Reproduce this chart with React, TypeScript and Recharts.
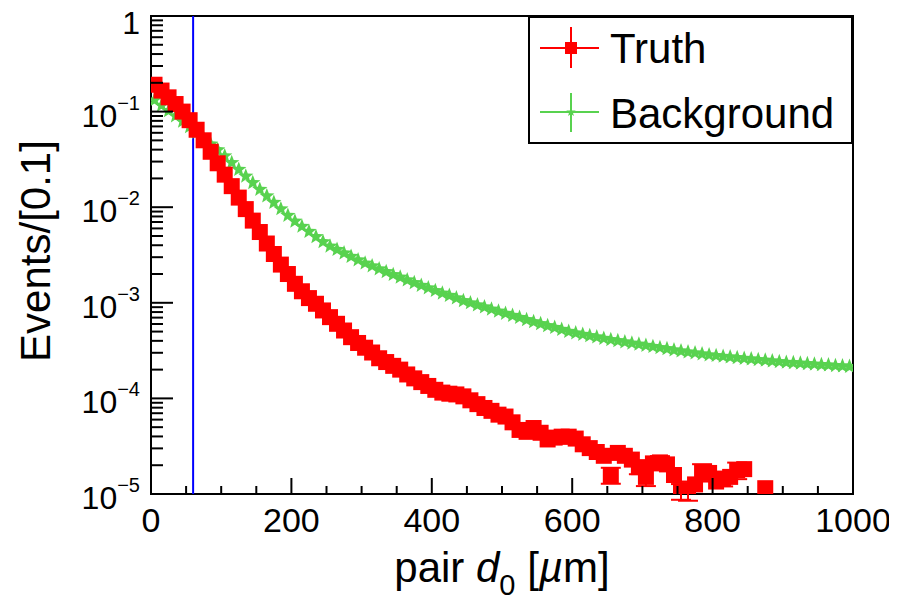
import React from 'react';
import { ScatterChart, Scatter, XAxis, YAxis, ReferenceLine, ReferenceArea, ErrorBar, Legend, Label } from 'recharts';

const FONT = '"Liberation Sans", Arial, Helvetica, sans-serif';

// ---- data (bin centres in micrometres, 10 um bins) ----
const binCenters = [
  5, 15, 25, 35, 45, 55, 65, 75, 85, 95,
  105, 115, 125, 135, 145, 155, 165, 175, 185, 195,
  205, 215, 225, 235, 245, 255, 265, 275, 285, 295,
  305, 315, 325, 335, 345, 355, 365, 375, 385, 395,
  405, 415, 425, 435, 445, 455, 465, 475, 485, 495,
  505, 515, 525, 535, 545, 555, 565, 575, 585, 595,
  605, 615, 625, 635, 645, 655, 665, 675, 685, 695,
  705, 715, 725, 735, 745, 755, 765, 775, 785, 795,
  805, 815, 825, 835, 845, 855, 865, 875, 885, 895,
  905, 915, 925, 935, 945, 955, 965, 975, 985, 995,
];

const truthValues: (number | null)[] = [
  0.191, 0.166, 0.141, 0.12, 0.1,
  0.0813, 0.0646, 0.0501, 0.038, 0.0288,
  0.0219, 0.0166, 0.0126, 0.00955, 0.00724,
  0.0055, 0.00417, 0.00324, 0.00251, 0.002,
  0.00158, 0.00132, 0.00112, 0.000977, 0.000832,
  0.000708, 0.000603, 0.000513, 0.000437, 0.00038,
  0.000339, 0.000302, 0.000263, 0.00024, 0.000219,
  0.0002, 0.000178, 0.000162, 0.000148, 0.000135,
  0.000123, 0.000115, 0.000112, 0.00011, 0.000105,
  9.55e-5, 8.71e-5, 7.94e-5, 7.41e-5, 6.76e-5,
  6.46e-5, 5.62e-5, 4.68e-5, 4.47e-5, 4.9e-5,
  4.37e-5, 3.72e-5, 3.89e-5, 3.98e-5, 3.98e-5,
  3.8e-5, 3.31e-5, 3.02e-5, 2.75e-5, 2.51e-5,
  1.58e-5, 2.69e-5, 2.51e-5, 2.29e-5, 1.91e-5,
  1.51e-5, 2.09e-5, 2.14e-5, 2.04e-5, 1.58e-5,
  1.07e-5, 1.1e-5, 1.26e-5, 1.7e-5, 1.66e-5,
  1.35e-5, 1.45e-5, 1.51e-5, 1.78e-5, 1.82e-5,
  null, null, 1.15e-5, null, null,
  null, null, null, null, null,
  null, null, null, null, null,
];

const truthErrors: (number | null)[] = [
  0, 0, 0, 0, 0, 0, 0, 0, 0, 0,
  0, 0, 0, 0, 0, 0, 0, 0, 0, 0,
  0, 0, 0, 0, 0, 0, 0, 0, 0, 0,
  0, 0, 0, 0, 0, 0, 0, 0, 0, 0,
  0, 0, 0, 0, 0, 0, 0, 0, 0, 0,
  0, 0, 0, 0, 0, 0, 0, 0, 0, 0,
  0, 0, 0, 0, 0,
  0.3e-5, 0, 0, 0, 0.3e-5,
  0.3e-5, 0, 0.35e-5, 0, 0,
  0.2e-5, 0.25e-5, 0, 0.35e-5, 0,
  0, 0.25e-5, 0, 0.35e-5, 0,
  null, null, 0, null, null,
  null, null, null, null, null,
  null, null, null, null, null,
];

const backgroundValues = [
  0.132, 0.116, 0.102, 0.09, 0.079,
  0.0692, 0.0603, 0.0525, 0.0457, 0.0398,
  0.0343, 0.0292, 0.0248, 0.0211, 0.018,
  0.01535, 0.0131, 0.0112, 0.0096, 0.0082,
  0.00713, 0.0063, 0.00556, 0.00491, 0.00434,
  0.00391, 0.0036, 0.00331, 0.00305, 0.00281,
  0.0026, 0.00243, 0.00226, 0.00211, 0.00197,
  0.00185, 0.00173, 0.00162, 0.00152, 0.00143,
  0.00134, 0.00126, 0.00119, 0.00112, 0.00105,
  0.000998, 0.000948, 0.000902, 0.000857, 0.000815,
  0.000774, 0.000736, 0.0007, 0.000665, 0.000632,
  0.000603, 0.000575, 0.00055, 0.000525, 0.000501,
  0.000482, 0.000467, 0.000452, 0.000438, 0.000424,
  0.000411, 0.0004, 0.000389, 0.000378, 0.000368,
  0.000358, 0.000348, 0.000339, 0.00033, 0.000321,
  0.000313, 0.000305, 0.000299, 0.000292, 0.000285,
  0.00028, 0.000275, 0.000271, 0.000266, 0.000262,
  0.000258, 0.000254, 0.00025, 0.000246, 0.000242,
  0.000238, 0.000236, 0.000233, 0.00023, 0.000228,
  0.000225, 0.000223, 0.00022, 0.000218, 0.000215,
];

const cutValue = 60;

const xTicks = [0, 50, 100, 150, 200, 250, 300, 350, 400, 450, 500, 550, 600, 650, 700, 750, 800, 850, 900, 950, 1000];
const xLabelStep = 200;

const yTicks = [
  1e-5, 2e-5, 3e-5, 4e-5, 5e-5, 6e-5, 7e-5, 8e-5, 9e-5,
  1e-4, 2e-4, 3e-4, 4e-4, 5e-4, 6e-4, 7e-4, 8e-4, 9e-4,
  1e-3, 2e-3, 3e-3, 4e-3, 5e-3, 6e-3, 7e-3, 8e-3, 9e-3,
  1e-2, 2e-2, 3e-2, 4e-2, 5e-2, 6e-2, 7e-2, 8e-2, 9e-2,
  0.1, 0.2, 0.3, 0.4, 0.5, 0.6, 0.7, 0.8, 0.9, 1,
];

const truthData = binCenters
  .map((x, i) => ({ x, y: truthValues[i], err: truthErrors[i] }))
  .filter((d) => d.y !== null);
const backgroundData = binCenters.map((x, i) => ({ x, y: backgroundValues[i] }));

// ---- styling ----
const RED = '#ff0000';
const GREEN = '#58d24f';
const BLUE = '#0000ff';
const W = 889;
const H = 593;

function starPath(cx: number, cy: number, R: number, r: number) {
  let d = '';
  for (let i = 0; i < 10; i++) {
    const a = ((-90 + i * 36) * Math.PI) / 180;
    const rad = i % 2 === 0 ? R : r;
    d += (i === 0 ? 'M' : 'L') + (cx + rad * Math.cos(a)).toFixed(2) + ',' + (cy + rad * Math.sin(a)).toFixed(2);
  }
  return d + 'Z';
}

const SquareShape = (props: any) => {
  const { cx, cy } = props;
  if (cx == null || cy == null || isNaN(cy)) return <g />;
  return <rect x={cx - 8} y={cy - 8} width={16} height={16} fill={RED} />;
};

const StarShape = (props: any) => {
  const { cx, cy } = props;
  if (cx == null || cy == null || isNaN(cy)) return <g />;
  return <path d={starPath(cx, cy, 8, 3.4)} fill={GREEN} />;
};

const XTick = (props: any) => {
  const { x, y, payload } = props;
  const v = payload.value;
  const major = v % xLabelStep === 0;
  return (
    <g>
      <line x1={x} x2={x} y1={y} y2={y - (major ? 16 : 8)} stroke="#000" strokeWidth={2} />
      {major && (
        <text x={x} y={y + 38} textAnchor="middle" fontSize={34} fontFamily={FONT} fill="#000">
          {v}
        </text>
      )}
    </g>
  );
};

const YTick = (props: any) => {
  const { x, y, payload } = props;
  const v = payload.value;
  const e = Math.log10(v);
  const n = Math.round(e);
  const major = Math.abs(e - n) < 1e-6;
  return (
    <g>
      <line x1={x} x2={x + (major ? 22 : 12)} y1={y} y2={y} stroke="#000" strokeWidth={2} />
      {major &&
        (n === 0 ? (
          <text x={x - 11} y={y + 18} textAnchor="end" fontSize={32} fontFamily={FONT} fill="#000">
            1
          </text>
        ) : (
          <text x={x - 11} y={y + 15} textAnchor="end" fontSize={32} fontFamily={FONT} fill="#000">
            <tspan>10</tspan>
            <tspan dy={-17} fontSize={20}>{'\u2212' + String(-n)}</tspan>
          </text>
        ))}
    </g>
  );
};

const XTitle = (props: any) => {
  const vb = props.viewBox || { x: 143, y: 486, width: 702, height: 107 };
  const cx = vb.x + vb.width / 2;
  return (
    <text x={cx} y={vb.y + 88} textAnchor="middle" fontSize={42} fontFamily={FONT} fill="#000" style={{ whiteSpace: 'pre' }}>
      <tspan>{'pair '}</tspan>
      <tspan fontStyle="italic">d</tspan>
      <tspan dy={13} fontSize={29}>0</tspan>
      <tspan dy={-13}>{' ['}</tspan>
      <tspan fontStyle="italic">{'\u00b5'}</tspan>
      <tspan>{'m]'}</tspan>
    </text>
  );
};

const YTitle = (props: any) => {
  const vb = props.viewBox || { x: 0, y: 8, width: 143, height: 478 };
  const cy = vb.y + vb.height / 2 - 4;
  const x = 42;
  return (
    <text x={x} y={cy} transform={`rotate(-90, ${x}, ${cy})`} textAnchor="middle" fontSize={42} fontFamily={FONT} fill="#000">
      Events/[0.1]
    </text>
  );
};

const LegendBox = () => (
  <svg width={325} height={128} style={{ display: 'block' }}>
    <rect x={1} y={1} width={323} height={126} fill="#fff" stroke="#000" strokeWidth={2} />
    <line x1={12} x2={71} y1={32} y2={32} stroke={RED} strokeWidth={2} />
    <line x1={43} x2={43} y1={11} y2={52} stroke={RED} strokeWidth={2} />
    <rect x={37} y={26} width={12} height={12} fill={RED} />
    <text x={82} y={47} fontSize={42} fontFamily={FONT} fill="#000">Truth</text>
    <line x1={12} x2={71} y1={96} y2={96} stroke={GREEN} strokeWidth={2} />
    <line x1={43} x2={43} y1={77} y2={116} stroke={GREEN} strokeWidth={2} />
    <path d={starPath(43, 96, 5, 2)} fill={GREEN} />
    <text x={82} y={112} fontSize={42} fontFamily={FONT} fill="#000">Background</text>
  </svg>
);

export default function App() {
  return (
    <div style={{ width: W, height: H, background: '#fff' }}>
      <ScatterChart width={W} height={H} margin={{ top: 8, right: 44, bottom: 0, left: 0 }}>
        <XAxis
          type="number"
          dataKey="x"
          domain={[0, 1000]}
          ticks={xTicks}
          interval={0}
          tick={<XTick />}
          tickLine={false}
          axisLine={false}
          tickSize={0}
          tickMargin={0}
          height={107}
          allowDataOverflow
        >
          <Label content={<XTitle />} />
        </XAxis>
        <YAxis
          type="number"
          dataKey="y"
          scale="log"
          domain={[1e-5, 1]}
          ticks={yTicks}
          interval={0}
          tick={<YTick />}
          tickLine={false}
          axisLine={false}
          tickSize={0}
          tickMargin={0}
          width={143}
          allowDataOverflow
        >
          <Label content={<YTitle />} />
        </YAxis>
        <Scatter name="Background" data={backgroundData} dataKey="y" shape={StarShape} fill={GREEN} isAnimationActive={false} />
        <Scatter name="Truth" data={truthData} dataKey="y" shape={SquareShape} fill={RED} isAnimationActive={false}>
          <ErrorBar dataKey="err" direction="y" width={10} stroke={RED} strokeWidth={2} />
        </Scatter>
        <ReferenceArea x1={0} x2={1000} y1={1e-5} y2={1} fill="none" stroke="#000" strokeWidth={2} fillOpacity={0} />
        <ReferenceLine x={cutValue} stroke={BLUE} strokeWidth={2} />
        <Legend
          layout="horizontal"
          verticalAlign="middle"
          align="center"
          wrapperStyle={{ left: 520, top: 8, width: 325, height: 128 }}
          content={() => <LegendBox />}
        />
      </ScatterChart>
    </div>
  );
}
